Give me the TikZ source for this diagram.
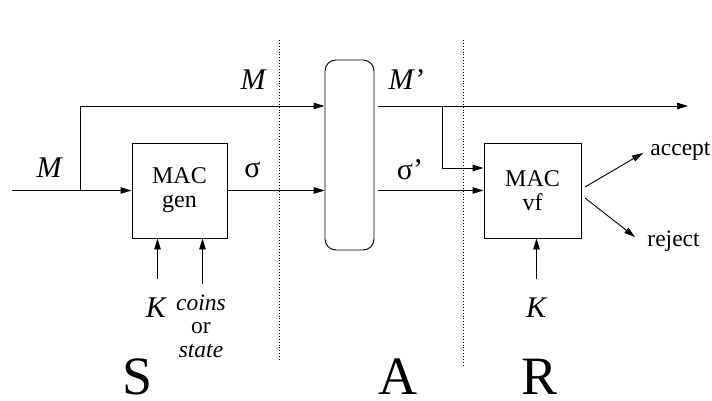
\documentclass[tikz,border=0pt]{standalone}
\usepackage{fontspec}
\setmainfont{Liberation Serif}
\usetikzlibrary{arrows.meta,calc}
\begin{document}
\begin{tikzpicture}[x=1pt,y=-1pt,line width=0.9pt,
  >={Triangle[length=11pt,width=6.5pt]},
  blk/.style={draw,minimum width=95pt,minimum height=95pt,inner sep=0pt,align=center,
    font=\fontsize{24}{24}\selectfont},
  lbl/.style={inner sep=0pt,font=\fontsize{30}{30}\selectfont},
  sml/.style={inner sep=0pt,font=\fontsize{23.5}{23.5}\selectfont},
  big/.style={inner sep=0pt,font=\fontsize{54}{54}\selectfont},
  sep/.style={line width=0.9pt,dotted}]
\useasboundingbox (0,0) rectangle (712,401);
% separators
\coordinate (s1t) at (279,40); \coordinate (s1b) at (279,360);
\coordinate (s2t) at (463,40); \coordinate (s2b) at (463,365);
\draw[sep] (s1t) -- (s1b);
\draw[sep] (s2t) -- (s2b);
% blocks
\node[blk] (gen) at (179.5,190.5) {MAC\\gen};
\node[draw,rounded corners=11pt,minimum width=49pt,minimum height=190pt,inner sep=0pt] (adv) at (349.5,155) {};
\node[blk,minimum width=97pt] (vf) at (532.5,190.5) {MAC\\vf};
% inputs
\coordinate (in) at (12,190.5);
\coordinate (br) at (80,190.5);
\coordinate (mtop) at (80,106);
\draw[->] (in) -- (gen.west);
\draw[->] (br) -- (mtop) -- (mtop -| adv.west);
\draw[->] (gen.east) -- (gen.east -| adv.west);
% outputs of adversary
\coordinate (mp) at (378,106);
\coordinate (mend) at (688,106);
\coordinate (mb) at (442,106);
\coordinate (sp) at (378,190.5);
\draw[->] (mp) -- (mend);
\draw[->] (mb) |- ([yshift=22.5pt]vf.west);
\draw[->] (sp) -- (vf.west);
% accept / reject
\node[sml,anchor=west] (acc) at (650,151) {accept};
\node[sml,anchor=west] (rej) at (647,241) {reject};
\coordinate (a0) at (585,187); \coordinate (a1) at (643,153);
\coordinate (r0) at (585,198); \coordinate (r1) at (635,237);
\draw[->] (a0) -- (a1);
\draw[->] (r0) -- (r1);
% key inputs
\coordinate (k1) at (157.5,279);
\coordinate (c1) at (202.5,284);
\coordinate (k2) at (536.5,279);
\draw[->] (k1) -- (k1 |- gen.south);
\draw[->] (c1) -- (c1 |- gen.south);
\draw[->] (k2) -- (k2 |- vf.south);
% labels
\node[lbl] (lM) at (49,168) {\itshape M};
\node[lbl] (lMt) at (253,80) {\itshape M};
\node[lbl] (ls) at (252.5,170) {σ};
\node[lbl] (lMp) at (406,80) {\itshape M’};
\node[lbl] (lsp) at (410,170) {σ’};
\node[lbl] (lK1) at (156,308) {\itshape K};
\node[lbl] (lK2) at (536,308) {\itshape K};
\node[sml,align=center] (coins) at (201,326) {\itshape coins\\or\\\itshape state};
\node[big,anchor=base] (S) at (138,394) {S};
\node[big,anchor=base] (A) at (398,394) {A};
\node[big,anchor=base] (R) at (540,394) {R};
\end{tikzpicture}
\end{document}
